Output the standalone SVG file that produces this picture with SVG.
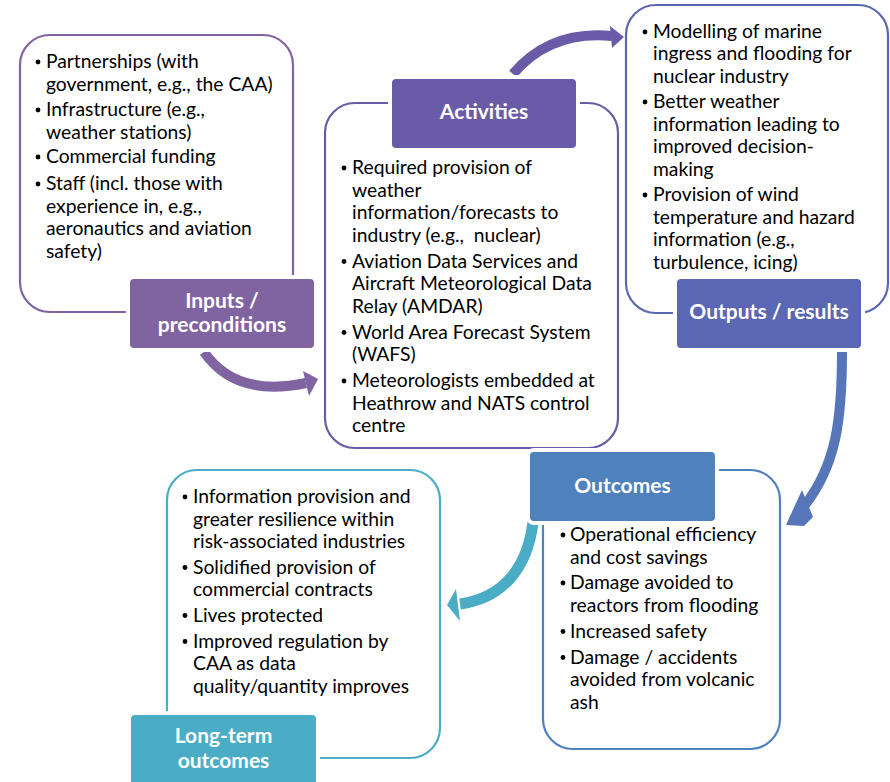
<svg xmlns="http://www.w3.org/2000/svg" width="890" height="782" viewBox="0 0 890 782">
  <style>
    .frame { fill: #ffffff; stroke-width: 2.2; }
    .label { stroke: #ffffff; stroke-width: 4; }
    .title { font-family: Lato, "Liberation Sans", sans-serif; font-weight: bold; font-size: 21px; fill: #ffffff; text-anchor: middle; }
    .body { font-family: Lato, "Liberation Sans", sans-serif; font-size: 19.3px; fill: #000000; white-space: pre; }
    .purple { stroke: #8064a2; }
    .violet { stroke: #6a5ba8; }
    .indigo { stroke: #5a67b3; }
    .blue { stroke: #4f81bd; }
    .teal { stroke: #4bacc6; }
  </style>

  <rect width="890" height="782" fill="#ffffff"/>

  <!-- curved connectors between stages -->
  <g id="connectors">
    <path d="M204,352 Q236,398 306,383" fill="none" stroke="#8064a2" stroke-width="10"/>
    <polygon points="318,379 303,371 309,396" fill="#8064a2"/>

    <path d="M513,74 Q550,30 612,36" fill="none" stroke="#6a5ba8" stroke-width="10"/>
    <polygon points="624,37 610,26 612,48" fill="#6a5ba8"/>

    <path d="M842,352 C842,420 836,465 805,505" fill="none" stroke="#5676b9" stroke-width="10"/>
    <polygon points="786,525 802,490 813,517 804,526" fill="#5676b9"/>

    <path d="M533,522 C528,565 505,598 460,604" fill="none" stroke="#4bacc6" stroke-width="11"/>
    <polygon points="447,605 456,589 460,621" fill="#4bacc6"/>
  </g>

  <!-- Inputs / preconditions -->
  <g id="inputs">
    <rect class="frame purple" x="20" y="35" width="273" height="277" rx="30"/>
    <g class="body">
      <text x="46" y="68">Partnerships (with</text>
      <text x="46" y="90.5">government, e.g., the CAA)</text>
      <text x="46" y="116">Infrastructure (e.g.,</text>
      <text x="46" y="138.5">weather stations)</text>
      <text x="46" y="163">Commercial funding</text>
      <text x="46" y="190">Staff (incl. those with</text>
      <text x="46" y="212.5">experience in, e.g.,</text>
      <text x="46" y="235">aeronautics and aviation</text>
      <text x="46" y="257.5">safety)</text>
    </g>
    <g fill="#000000">
      <circle cx="38" cy="62" r="2.4"/>
      <circle cx="38" cy="110" r="2.4"/>
      <circle cx="38" cy="157" r="2.4"/>
      <circle cx="38" cy="184" r="2.4"/>
    </g>
    <rect class="label" x="128" y="277" width="188" height="73" rx="6" fill="#8064a2"/>
    <text class="title" x="222" y="308">Inputs /</text>
    <text class="title" x="222" y="332">preconditions</text>
  </g>

  <!-- Activities -->
  <g id="activities">
    <rect class="frame violet" x="325" y="103" width="293" height="345" rx="30"/>
    <g class="body">
      <text x="352" y="174">Required provision of</text>
      <text x="352" y="196.5">weather</text>
      <text x="352" y="219">information/forecasts to</text>
      <text x="352" y="241.5">industry (e.g.,&#160; nuclear)</text>
      <text x="352" y="267.5">Aviation Data Services and</text>
      <text x="352" y="290">Aircraft Meteorological Data</text>
      <text x="352" y="312.5">Relay (AMDAR)</text>
      <text x="352" y="338.5">World Area Forecast System</text>
      <text x="352" y="361">(WAFS)</text>
      <text x="352" y="387">Meteorologists embedded at</text>
      <text x="352" y="409.5">Heathrow and NATS control</text>
      <text x="352" y="432">centre</text>
    </g>
    <g fill="#000000">
      <circle cx="344" cy="168" r="2.4"/>
      <circle cx="344" cy="261.5" r="2.4"/>
      <circle cx="344" cy="332.5" r="2.4"/>
      <circle cx="344" cy="381" r="2.4"/>
    </g>
    <rect class="label" x="390" y="77" width="188" height="73" rx="6" fill="#6a5ba8"/>
    <text class="title" x="484" y="119">Activities</text>
  </g>

  <!-- Outputs / results -->
  <g id="outputs">
    <rect class="frame indigo" x="626" y="5" width="262" height="308" rx="30"/>
    <g class="body">
      <text x="653" y="38">Modelling of marine</text>
      <text x="653" y="60">ingress and flooding for</text>
      <text x="653" y="82.5">nuclear industry</text>
      <text x="653" y="108">Better weather</text>
      <text x="653" y="130.5">information leading to</text>
      <text x="653" y="153">improved decision-</text>
      <text x="653" y="175.5">making</text>
      <text x="653" y="201">Provision of wind</text>
      <text x="653" y="223.5">temperature and hazard</text>
      <text x="653" y="246">information (e.g.,</text>
      <text x="653" y="268.5">turbulence, icing)</text>
    </g>
    <g fill="#000000">
      <circle cx="645" cy="32" r="2.4"/>
      <circle cx="645" cy="102" r="2.4"/>
      <circle cx="645" cy="195" r="2.4"/>
    </g>
    <rect class="label" x="675" y="277" width="188" height="73" rx="6" fill="#5a67b3"/>
    <text class="title" x="769" y="319">Outputs / results</text>
  </g>

  <!-- Outcomes -->
  <g id="outcomes">
    <rect class="frame blue" x="543" y="470" width="237" height="279" rx="30"/>
    <g class="body">
      <text x="570" y="541">Operational efficiency</text>
      <text x="570" y="563.5">and cost savings</text>
      <text x="570" y="589">Damage avoided to</text>
      <text x="570" y="611.5">reactors from flooding</text>
      <text x="570" y="637.5">Increased safety</text>
      <text x="570" y="663.5">Damage / accidents</text>
      <text x="570" y="686">avoided from volcanic</text>
      <text x="570" y="708.5">ash</text>
    </g>
    <g fill="#000000">
      <circle cx="563" cy="535" r="2.4"/>
      <circle cx="563" cy="583" r="2.4"/>
      <circle cx="563" cy="631.5" r="2.4"/>
      <circle cx="563" cy="657.5" r="2.4"/>
    </g>
    <rect class="label" x="528" y="450" width="189" height="73" rx="6" fill="#4f81bd"/>
    <text class="title" x="622.5" y="493">Outcomes</text>
  </g>

  <!-- Long-term outcomes -->
  <g id="long-term">
    <rect class="frame teal" x="167" y="470" width="273" height="288" rx="30"/>
    <g class="body">
      <text x="193" y="503">Information provision and</text>
      <text x="193" y="525.5">greater resilience within</text>
      <text x="193" y="548">risk-associated industries</text>
      <text x="193" y="573.5">Solidified provision of</text>
      <text x="193" y="596">commercial contracts</text>
      <text x="193" y="621.5">Lives protected</text>
      <text x="193" y="647.5">Improved regulation by</text>
      <text x="193" y="670">CAA as data</text>
      <text x="193" y="692.5">quality/quantity improves</text>
    </g>
    <g fill="#000000">
      <circle cx="185" cy="497" r="2.4"/>
      <circle cx="185" cy="567.5" r="2.4"/>
      <circle cx="185" cy="615.5" r="2.4"/>
      <circle cx="185" cy="641.5" r="2.4"/>
    </g>
    <rect class="label" x="129" y="713" width="189" height="80" rx="6" fill="#4bacc6"/>
    <text class="title" x="223.5" y="743">Long-term</text>
    <text class="title" x="223.5" y="768">outcomes</text>
  </g>
</svg>
